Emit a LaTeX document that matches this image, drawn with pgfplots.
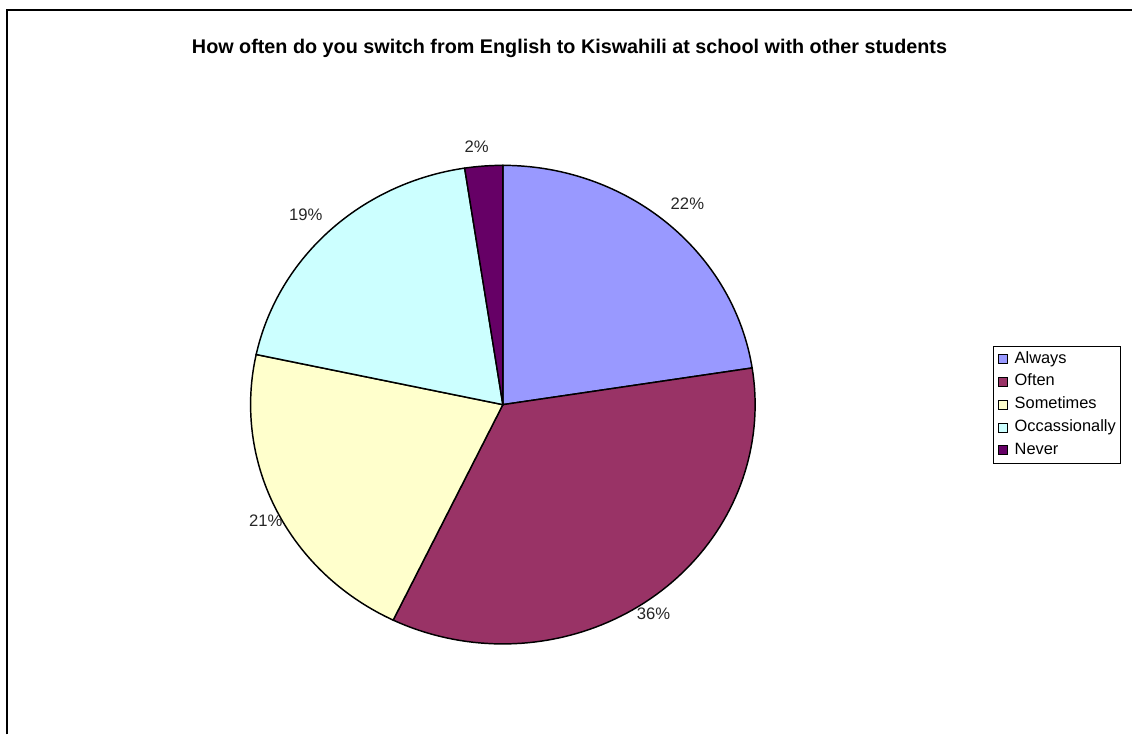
\documentclass[border=0pt]{standalone}
\usepackage{pgfplots}
\pgfplotsset{compat=1.18}
\usepackage{fontspec}
\setmainfont{Liberation Sans}

\definecolor{always}{HTML}{9999FF}
\definecolor{often}{HTML}{993366}
\definecolor{sometimes}{HTML}{FFFFCC}
\definecolor{occas}{HTML}{CCFFFF}
\definecolor{never}{HTML}{660066}

% pie geometry (pixel units of the 1133x735 picture)
\def\cx{503.3}
\def\cy{330}
\def\rx{252.5}
\def\ry{239.5}

\begin{document}
\begin{tikzpicture}
\begin{axis}[
  width=849.75pt, height=551.25pt, scale only axis,
  xmin=0, xmax=1133, ymin=0, ymax=735,
  hide axis, clip=false,
  area legend,
  legend image code/.code={\draw[#1, draw=black, line width=0.6pt] (0pt,-3.4pt) rectangle (6.8pt,3.4pt);},
  legend cell align=left,
  legend style={at={(axis cs:994,389)}, anchor=north west, draw=black, line width=0.6pt,
    font=\fontsize{12.3}{14}\selectfont, inner xsep=3.5pt, inner ysep=3.8pt,
    row sep=5.1pt,
    nodes={inner sep=0pt, text height=9pt, text depth=3pt},
    /tikz/every even column/.append style={column sep=3pt},
    /tikz/every odd column/.append style={column sep=5pt}},
]
\path (axis cs:0,0) (axis cs:1133,735);
% slices: domain = cumulative percentage range, clockwise from 12 o'clock
\addplot[fill=always, draw=black, line width=1.1pt, domain=0:22.55, samples=80]
  ({\cx+\rx*sin(3.6*x)}, {\cy+\ry*cos(3.6*x)}) -- (axis cs:\cx,\cy) -- cycle;
\addlegendentry{Always}
\addplot[fill=often, draw=black, line width=1.1pt, domain=22.55:57.16, samples=80]
  ({\cx+\rx*sin(3.6*x)}, {\cy+\ry*cos(3.6*x)}) -- (axis cs:\cx,\cy) -- cycle;
\addlegendentry{Often}
\addplot[fill=sometimes, draw=black, line width=1.1pt, domain=57.16:78.36, samples=80]
  ({\cx+\rx*sin(3.6*x)}, {\cy+\ry*cos(3.6*x)}) -- (axis cs:\cx,\cy) -- cycle;
\addlegendentry{Sometimes}
\addplot[fill=occas, draw=black, line width=1.1pt, domain=78.36:97.58, samples=80]
  ({\cx+\rx*sin(3.6*x)}, {\cy+\ry*cos(3.6*x)}) -- (axis cs:\cx,\cy) -- cycle;
\addlegendentry{Occassionally}
\addplot[fill=never, draw=black, line width=1.1pt, domain=97.58:100, samples=20]
  ({\cx+\rx*sin(3.6*x)}, {\cy+\ry*cos(3.6*x)}) -- (axis cs:\cx,\cy) -- cycle;
\addlegendentry{Never}

% data labels
\begin{scope}[every node/.style={font=\fontsize{12.5}{14}\selectfont, text=black!85}]
\node at (axis cs:688,531) {22\%};
\node at (axis cs:654,121) {36\%};
\node at (axis cs:266,214) {21\%};
\node at (axis cs:306,520) {19\%};
\node at (axis cs:477,588) {2\%};
\end{scope}

% title
\node[font=\bfseries\fontsize{14.85}{17}\selectfont] at (axis cs:570,687)
  {How often do you switch from English to Kiswahili at school with other students};

% chart frame (left and top edges)
\draw[line width=1.5pt] (axis cs:7,0) -- (axis cs:7,725) -- (axis cs:1133,725);
\end{axis}
\end{tikzpicture}
\end{document}
